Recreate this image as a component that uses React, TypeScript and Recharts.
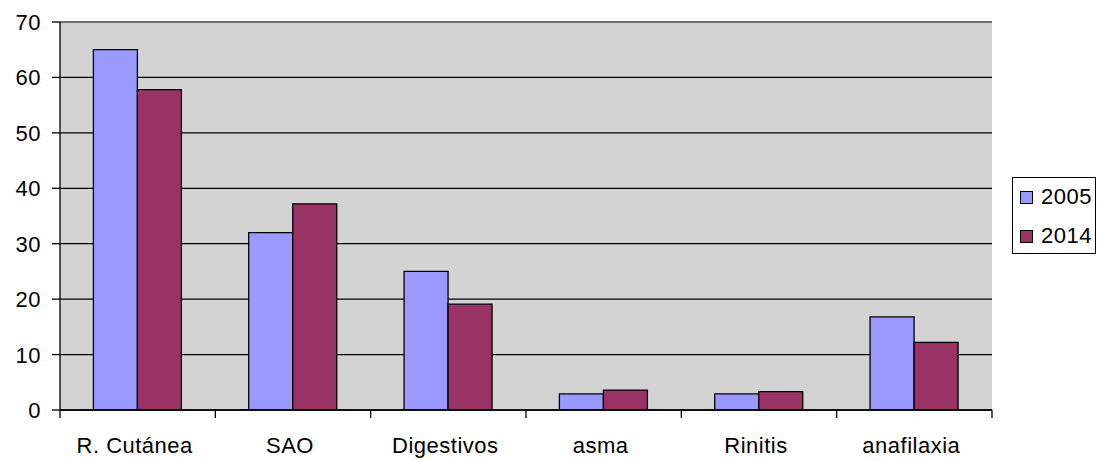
import React from 'react';
import { BarChart, Bar, XAxis, YAxis, CartesianGrid, Legend, ReferenceLine } from 'recharts';

const categories = ['R. Cutánea', 'SAO', 'Digestivos', 'asma', 'Rinitis', 'anafilaxia'];
const values2005 = [65, 32, 25, 2.9, 2.9, 16.8];
const values2014 = [57.8, 37.2, 19.1, 3.6, 3.3, 12.2];
const yTicks = [0, 10, 20, 30, 40, 50, 60, 70];
const seriesNames = ['2005', '2014'];
const seriesColors = ['#9999FF', '#993366'];

const data = categories.map((c, i) => ({ name: c, s2005: values2005[i], s2014: values2014[i] }));

const W = 1097;
const H = 461;
const M = { top: 22, right: 105, left: 0, bottom: 0 };
const YW = 60;
const XH = 51;
const FONT = '"Liberation Sans", Arial, sans-serif';
const FS = 22;
const LS = 0.5;
const plotWidth = W - M.left - M.right - YW;
const band = plotWidth / categories.length;

const XTick = (props: any) => {
  const { x, y, payload, index } = props;
  const top = y - 8;
  return (
    <g>
      <line x1={x - band / 2} x2={x - band / 2} y1={top} y2={y} stroke="#000" strokeWidth={1.3} />
      {index === categories.length - 1 && (
        <line x1={x + band / 2} x2={x + band / 2} y1={top} y2={y} stroke="#000" strokeWidth={1.3} />
      )}
      <text x={x - 3} y={y + 35} textAnchor="middle" fontFamily={FONT} fontSize={FS} letterSpacing={LS} fill="#000">
        {payload.value}
      </text>
    </g>
  );
};

const YTick = (props: any) => {
  const { x, y, payload } = props;
  return (
    <text x={x} y={y} dy={8} textAnchor="end" fontFamily={FONT} fontSize={FS} letterSpacing={LS} fill="#000">
      {payload.value}
    </text>
  );
};

const LegendBox = () => (
  <div
    style={{
      width: 84,
      height: 77,
      border: '1.3px solid #000',
      boxSizing: 'border-box',
      background: '#fff',
      fontFamily: FONT,
      fontSize: FS,
      letterSpacing: LS,
      color: '#000',
      position: 'relative',
    }}
  >
    {seriesNames.map((n, i) => (
      <div
        key={n}
        style={{ position: 'absolute', left: 7, top: 6 + i * 39, display: 'flex', alignItems: 'center', lineHeight: '26px' }}
      >
        <span
          style={{
            display: 'inline-block',
            width: 11,
            height: 11,
            background: seriesColors[i],
            border: '1px solid #000',
            marginRight: 8,
          }}
        />
        <span>{n}</span>
      </div>
    ))}
  </div>
);

export default function App() {
  return (
    <div style={{ position: 'absolute', left: 0, top: 0, background: '#fff' }}>
      <BarChart
        width={W}
        height={H}
        data={data}
        margin={M}
        barCategoryGap="21.5%"
        barGap={0}
      >
        <CartesianGrid vertical={false} stroke="#000" strokeWidth={1.3} fill="#D3D3D3" fillOpacity={1} yAxisId="l" />
        <XAxis
          dataKey="name"
          height={XH}
          tickLine={false}
          tickSize={8}
          tickMargin={0}
          tick={<XTick />}
          axisLine={{ stroke: '#000', strokeWidth: 1.3 }}
          interval={0}
        />
        <YAxis
          yAxisId="l"
          width={YW}
          domain={[0, 70]}
          ticks={yTicks}
          tickSize={8}
          tickMargin={11}
          tickLine={{ stroke: '#000', strokeWidth: 1.3 }}
          axisLine={{ stroke: '#000', strokeWidth: 1.3 }}
          tick={<YTick />}
          allowDataOverflow
        />
        <YAxis
          yAxisId="r"
          orientation="right"
          width={0}
          domain={[0, 70]}
          ticks={yTicks}
          tick={false}
          tickLine={false}
          axisLine={{ stroke: '#808080', strokeWidth: 1.3 }}
        />
        <ReferenceLine yAxisId="l" y={70} stroke="#808080" strokeWidth={1.3} />
        <Bar yAxisId="l" dataKey="s2005" name={seriesNames[0]} fill={seriesColors[0]} stroke="#000" strokeWidth={1.3} isAnimationActive={false} />
        <Bar yAxisId="l" dataKey="s2014" name={seriesNames[1]} fill={seriesColors[1]} stroke="#000" strokeWidth={1.3} isAnimationActive={false} />
        <Legend
          layout="horizontal"
          align="center"
          verticalAlign="middle"
          content={<LegendBox />}
          wrapperStyle={{ position: 'absolute', left: 1012, top: 177, width: 84, height: 77 }}
        />
      </BarChart>
    </div>
  );
}
